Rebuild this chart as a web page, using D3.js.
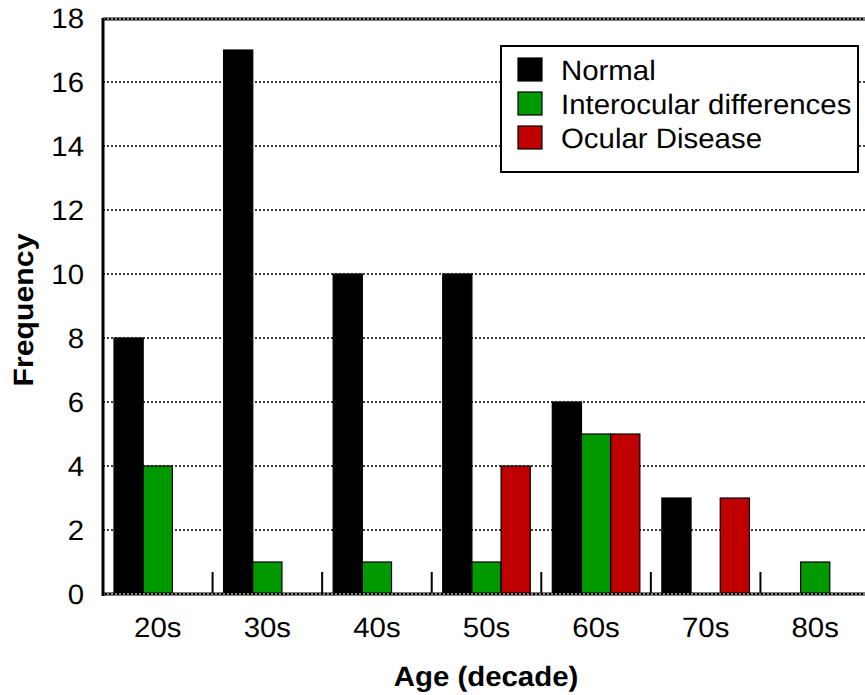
<!DOCTYPE html>
<html><head><meta charset="utf-8">
<script src="https://cdnjs.cloudflare.com/ajax/libs/d3/7.8.5/d3.min.js"></script>
<style>body{margin:0;background:#fff}svg{display:block;font-family:"Liberation Sans",Arial,sans-serif;text-rendering:geometricPrecision}</style>
</head><body><svg id="c" width="865" height="695"></svg>
<script>
const categories = ["20s","30s","40s","50s","60s","70s","80s"];
const seriesNames = ["Normal","Interocular differences","Ocular Disease"];
const normal = [8,17,10,10,6,3,0];
const interocular = [4,1,1,1,5,0,1];
const ocular = [0,0,0,4,5,3,0];
const yTicks = [0,2,4,6,8,10,12,14,16,18];
const colors = ["#000000","#009900","#c00000"];

(function () {
const seriesValues = [normal, interocular, ocular];
const svg = d3.select("#c");
const mLeft = 103, mTop = 18, mBottom = 594, mRight = 870;
const sx = 1.05;
const x = d3.scaleBand().domain(categories).range([mLeft, mRight]);
const xs = d3.scaleBand().domain(seriesNames).range([0, x.bandwidth()]).paddingOuter(0.377);
const y = d3.scaleLinear().domain([0, 18]).range([mBottom, mTop]);

// gridlines
svg.append("g").selectAll("line").data(yTicks.filter(t => t > 0 && t < 18)).join("line")
  .attr("x1", mLeft).attr("x2", 865).attr("y1", d => y(d)).attr("y2", d => y(d))
  .attr("stroke", "#000").attr("stroke-width", 1.3).attr("stroke-dasharray", "2,2");

// bars
const data = [];
categories.forEach((c, i) => seriesNames.forEach((s, j) => {
  if (seriesValues[j][i] > 0) data.push({c, s, v: seriesValues[j][i], color: colors[j]});
}));
svg.append("g").selectAll("rect").data(data).join("rect")
  .attr("x", d => x(d.c) + xs(d.s)).attr("width", xs.bandwidth())
  .attr("y", d => y(d.v)).attr("height", d => y(0) - y(d.v))
  .attr("fill", d => d.color).attr("stroke", "#000").attr("stroke-width", 1.2);

// category separator ticks
svg.append("g").selectAll("line").data(categories.slice(1)).join("line")
  .attr("x1", d => x(d)).attr("x2", d => x(d)).attr("y1", mBottom - 22).attr("y2", mBottom)
  .attr("stroke", "#000").attr("stroke-width", 2);

// top and bottom border lines
[mTop + 1, mBottom].forEach(yy => {
  svg.append("line").attr("x1", mLeft).attr("x2", 865).attr("y1", yy).attr("y2", yy)
    .attr("stroke", "#000").attr("stroke-width", 3);
  svg.append("line").attr("x1", mLeft).attr("x2", 865).attr("y1", yy).attr("y2", yy)
    .attr("stroke", "#fff").attr("stroke-width", 1).attr("stroke-dasharray", "2,2");
});
// left axis
svg.append("line").attr("x1", mLeft).attr("x2", mLeft).attr("y1", mTop).attr("y2", mBottom + 2)
  .attr("stroke", "#000").attr("stroke-width", 3);

// y tick labels
svg.append("g").selectAll("text").data(yTicks).join("text")
  .attr("transform", d => `translate(84,${y(d)}) scale(${sx},1)`).attr("dy", "0.36em").attr("text-anchor", "end")
  .attr("font-size", 28).text(d => d);

// x tick labels
svg.append("g").selectAll("text").data(categories).join("text")
  .attr("transform", d => `translate(${x(d) + x.bandwidth() / 2},637) scale(${sx},1)`).attr("text-anchor", "middle")
  .attr("font-size", 28).text(d => d);

// axis titles
svg.append("text").attr("transform", `translate(486,686) scale(${sx},1)`).attr("text-anchor", "middle")
  .attr("font-size", 28).attr("font-weight", "bold").text("Age (decade)");
svg.append("text").attr("transform", "translate(33,310) rotate(-90) scale(1.08,1)").attr("text-anchor", "middle")
  .attr("font-size", 28).attr("font-weight", "bold").text("Frequency");

// legend
const lg = svg.append("g");
lg.append("rect").attr("x", 501).attr("y", 46).attr("width", 357).attr("height", 126)
  .attr("fill", "#fff").attr("stroke", "#000").attr("stroke-width", 2);
seriesNames.forEach((s, j) => {
  const cy = 69.5 + j * 34;
  lg.append("rect").attr("x", 518).attr("y", cy - 11.5).attr("width", 24).attr("height", 23)
    .attr("fill", colors[j]).attr("stroke", "#000").attr("stroke-width", 1.2);
  lg.append("text").attr("transform", `translate(561,${cy}) scale(${sx},1)`).attr("dy", "0.36em")
    .attr("font-size", 28).text(s);
});
})();
</script></body></html>
